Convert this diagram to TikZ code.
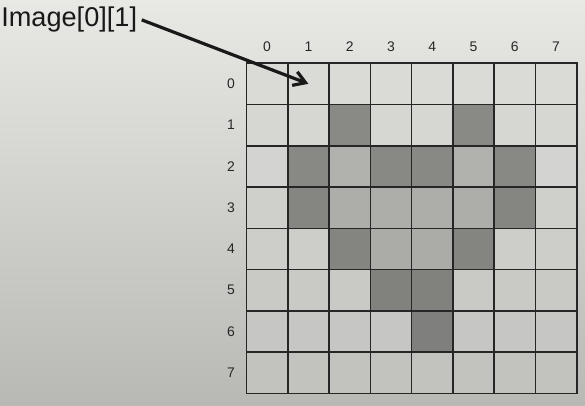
\documentclass[tikz,border=0pt]{standalone}
\usepackage{fontspec}
\setmainfont{Liberation Sans}
\usetikzlibrary{arrows.meta}
\definecolor{fondoarriba}{HTML}{E8E9E5}
\definecolor{fondomedio}{HTML}{DCDDD9}
\definecolor{fondoabajo}{HTML}{B8B9B5}
\definecolor{tono0}{HTML}{DADBD7}
\definecolor{tono1}{HTML}{B6B7B3}
\definecolor{tono2}{HTML}{8C8D89}
\tikzset{
  celda/.style={draw=black!85, line width=1.1pt, minimum size=1cm, inner sep=0pt, outer sep=0pt},
  indice/.style={text=black!85, font=\fontsize{9.6}{11}\selectfont, inner sep=0pt}
}
\begin{document}
\begin{tikzpicture}
  \useasboundingbox (-5.97,-8.30) rectangle (8.2,1.53);

  % Fondo
  \shade[top color=fondoarriba, middle color=fondomedio, bottom color=fondoabajo]
    (-5.97,-8.30) rectangle (8.2,1.53);

  % Celdas
  \foreach \fil/\patron in {0/{0,0,0,0,0,0,0,0}, 1/{0,0,2,0,0,2,0,0},
                            2/{0,2,1,2,2,1,2,0}, 3/{0,2,1,1,1,1,2,0},
                            4/{0,0,2,1,1,2,0,0}, 5/{0,0,0,2,2,0,0,0},
                            6/{0,0,0,0,2,0,0,0}, 7/{0,0,0,0,0,0,0,0}}{
      \pgfmathtruncatemacro\pct{100-1.5*\fil}
      \foreach \k [count=\col from 0] in \patron
          \node[celda, fill=tono\k!\pct!black] (c\fil\col) at (\col+0.5,-\fil-0.5) {};
  }

  % Indices
  \foreach \i in {0,...,7}{
      \node[indice] (col\i) at (\i+0.5,0.39) {\i};
      \node[indice] (fila\i) at (-0.375,-\i-0.5) {\i};
  }

  % Etiqueta
  \node[anchor=base west, inner xsep=3pt, text=black!90,
        font=\fontsize{18.7}{22}\selectfont] (etiq) at (-6.05,0.879) {Image[0][1]};
  \draw[line width=2.2pt, black!90, -{Straight Barb[length=8pt,width=10pt]}] (etiq.east) -- (c01.center);
\end{tikzpicture}
\end{document}
